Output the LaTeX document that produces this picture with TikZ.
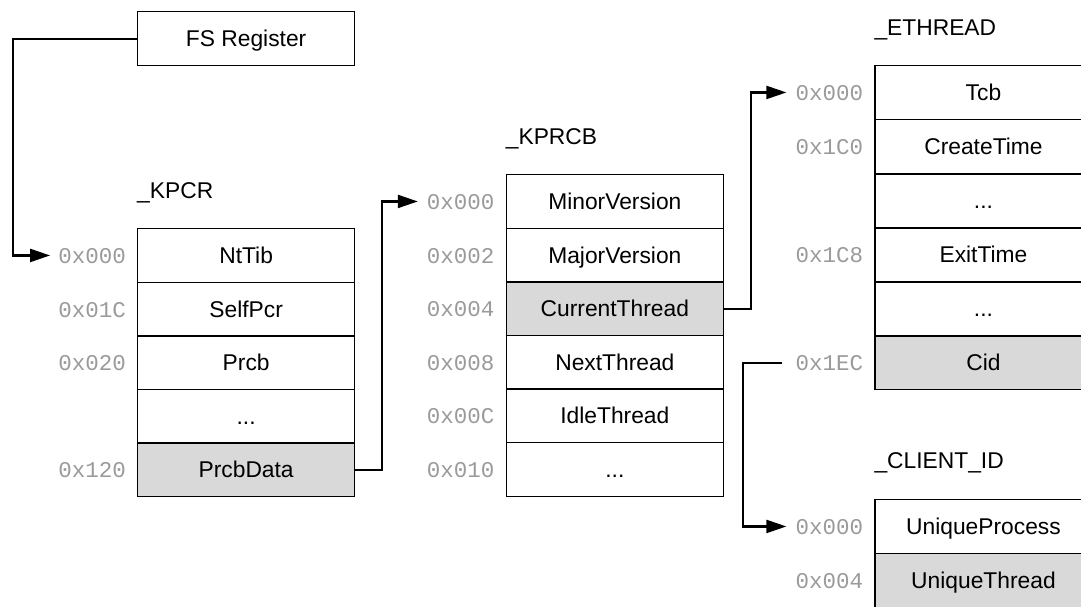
\documentclass[tikz,border=0pt]{standalone}
\usepackage{fontspec}
\setmainfont{Liberation Sans}
\newfontfamily\offfont{Liberation Mono}
\usetikzlibrary{arrows.meta}
\definecolor{offgray}{HTML}{9A9A9A}
\definecolor{hotfill}{HTML}{D9D9D9}
\tikzset{
  field/.style={draw, line width=1.3pt, minimum width=217pt, minimum height=53.6pt,
    inner sep=0pt, anchor=north west, text height=16pt, text depth=0pt,
    font=\fontsize{22.8pt}{27pt}\selectfont},
  hot/.style={field, fill=hotfill},
  offset/.style={anchor=east, inner sep=0pt, text=offgray, text height=16pt, text depth=0pt,
    font=\offfont\fontsize{22.5pt}{27pt}\selectfont},
  title/.style={anchor=base west, inner sep=0pt, font=\fontsize{22.8pt}{27pt}\selectfont},
  link/.style={line width=2.2pt, -{Triangle[length=20pt,width=13pt]}}
}
\begin{document}
\begin{tikzpicture}[x=1pt,y=-1pt]
\useasboundingbox (0,0) rectangle (1081,606);

% register
\node[field, minimum height=54pt] (fs) at (137,11) {FS Register};

% _KPCR
\node[title] (tkpcr) at (137,198) {\_KPCR};
\node[field] (k0) at (137,228)   {NtTib};
\node[field] (k1) at (137,281.6) {SelfPcr};
\node[field] (k2) at (137,335.2) {Prcb};
\node[field] (k3) at (137,388.8) {...};
\node[hot]   (k4) at (137,442.4) {PrcbData};
\node[offset] (ko0) at ([xshift=-11pt]k0.west) {0x000};
\node[offset] (ko1) at ([xshift=-11pt]k1.west) {0x01C};
\node[offset] (ko2) at ([xshift=-11pt]k2.west) {0x020};
\node[offset] (ko4) at ([xshift=-11pt]k4.west) {0x120};

% _KPRCB
\node[title] (tkprcb) at (505.7,144) {\_KPRCB};
\node[field] (p0) at (505.7,174)   {MinorVersion};
\node[field] (p1) at (505.7,227.6) {MajorVersion};
\node[hot]   (p2) at (505.7,281.2) {CurrentThread};
\node[field] (p3) at (505.7,334.8) {NextThread};
\node[field] (p4) at (505.7,388.4) {IdleThread};
\node[field] (p5) at (505.7,442)   {...};
\node[offset] (po0) at ([xshift=-11pt]p0.west) {0x000};
\node[offset] (po1) at ([xshift=-11pt]p1.west) {0x002};
\node[offset] (po2) at ([xshift=-11pt]p2.west) {0x004};
\node[offset] (po3) at ([xshift=-11pt]p3.west) {0x008};
\node[offset] (po4) at ([xshift=-11pt]p4.west) {0x00C};
\node[offset] (po5) at ([xshift=-11pt]p5.west) {0x010};

% _ETHREAD
\node[title] (tethread) at (874.3,35) {\_ETHREAD};
\node[field] (e0) at (874.3,65)    {Tcb};
\node[field] (e1) at (874.3,119.1) {CreateTime};
\node[field] (e2) at (874.3,173.2) {...};
\node[field] (e3) at (874.3,227.3) {ExitTime};
\node[field] (e4) at (874.3,281.4) {...};
\node[hot]   (e5) at (874.3,335.5) {Cid};
\node[offset] (eo0) at ([xshift=-11pt]e0.west) {0x000};
\node[offset] (eo1) at ([xshift=-11pt]e1.west) {0x1C0};
\node[offset] (eo3) at ([xshift=-11pt]e3.west) {0x1C8};
\node[offset] (eo5) at ([xshift=-11pt]e5.west) {0x1EC};

% _CLIENT_ID
\node[title] (tclient) at (874.3,468) {\_CLIENT\_ID};
\node[field] (c0) at (874.3,499)   {UniqueProcess};
\node[hot]   (c1) at (874.3,553.1) {UniqueThread};
\node[offset] (co0) at ([xshift=-11pt]c0.west) {0x000};
\node[offset] (co1) at ([xshift=-11pt]c1.west) {0x004};

% pointers
\draw[link] (fs.west) -- ++(-124pt,0) |- ([xshift=-8pt]ko0.west);
\draw[link] (k4.east) -- ++(27pt,0) |- ([xshift=-9pt]po0.west);
\draw[link] (p2.east) -- ++(27pt,0) |- ([xshift=-9pt]eo0.west);
\draw[link] ([xshift=-13pt]eo5.west) -- ++(-39pt,0) |- ([xshift=-9pt]co0.west);
\end{tikzpicture}
\end{document}
